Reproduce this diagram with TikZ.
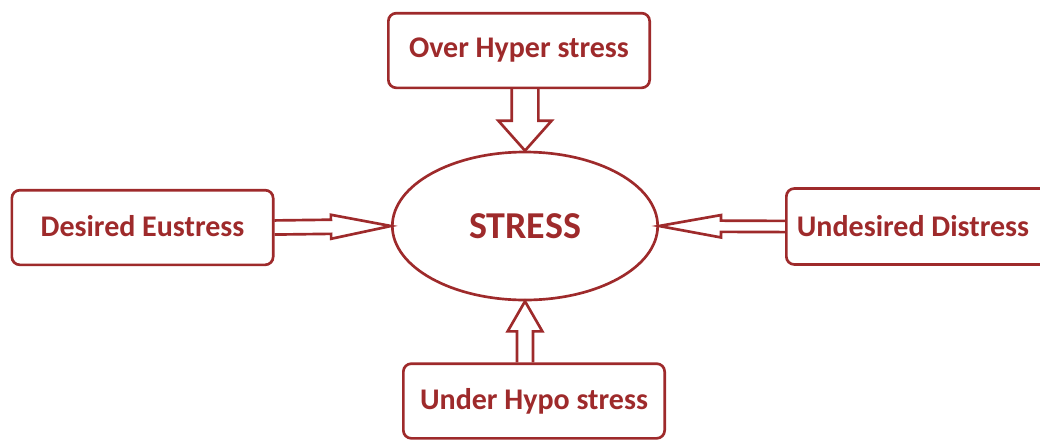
\documentclass[tikz,border=0pt]{standalone}
\usepackage{fontspec}
\setmainfont{Carlito}
\usetikzlibrary{calc,shapes.geometric}
\definecolor{stressred}{RGB}{158,42,43}
\begin{document}
\begin{tikzpicture}[x=0.75pt,y=-0.75pt,
        box/.style={draw=stressred,line width=2pt,rounded corners=6pt,minimum width=196pt,minimum height=56pt,text=stressred,font=\fontsize{22.5}{26}\selectfont\bfseries},
        hollow/.style n args={3}{to path={
            ($(\tikztotarget)!#3!(\tikztostart)$) coordinate (hb)
            ($(\tikztostart)!#1!90:(\tikztotarget)$) -- ($(hb)!#1!90:(\tikztotarget)$) -- ($(hb)!#2!90:(\tikztotarget)$)
            -- (\tikztotarget) -- ($(hb)!#2!-90:(\tikztotarget)$) -- ($(hb)!#1!-90:(\tikztotarget)$) -- ($(\tikztostart)!#1!-90:(\tikztotarget)$)}}]
    \useasboundingbox (0,0) rectangle (1040,440);
    \node [draw=stressred,line width=2pt,ellipse,minimum width=199pt,minimum height=111pt,text=stressred,font=\fontsize{28.5}{32}\selectfont\bfseries] (stress) at (525,226) {STRESS};
    \node [box] (hyper) at (519,50.5) {Over Hyper stress};
    \node [box] (eustress) at (142.5,227.5) {\raisebox{3pt}{Desired Eustress}};
    \node [box,minimum height=57pt] (distress) at (917,226.5) {\hspace*{-6pt}Undesired Distress};
    \node [box] (hypo) at (534,401) {Under Hypo stress};
    % block arrows into the ellipse
    \draw [stressred,line width=2pt] (hyper.south -| stress.north) to[hollow={10pt}{20pt}{22.5pt}] (stress.north);
    \draw [stressred,line width=2pt] (eustress.east) to[hollow={5.3pt}{9pt}{45pt}] (stress.west);
    \draw [stressred,line width=2pt] (distress.west) to[hollow={4.2pt}{8.4pt}{46.5pt}] (stress.east);
    \draw [stressred,line width=2pt] (hypo.north -| stress.south) to[hollow={6pt}{13pt}{22.5pt}] (stress.south);
\end{tikzpicture}
\end{document}
